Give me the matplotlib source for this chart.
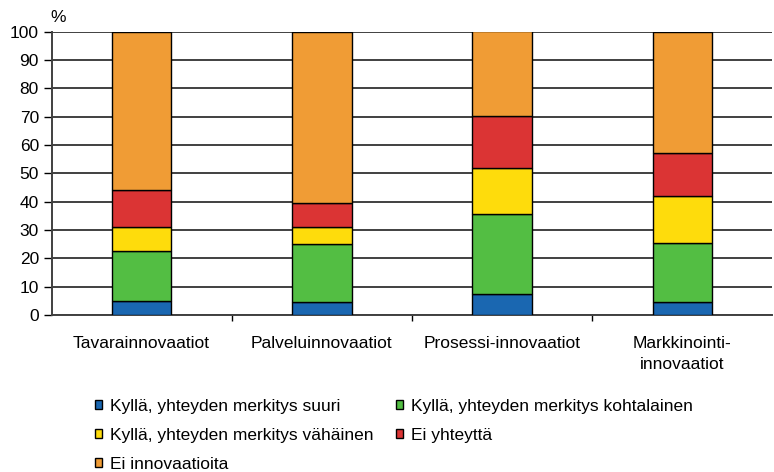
import numpy as np
import matplotlib.pyplot as plt
from matplotlib.patches import Patch

plt.rcParams["font.family"] = ["Liberation Sans", "DejaVu Sans"]

categories = ["Tavarainnovaatiot", "Palveluinnovaatiot", "Prosessi-innovaatiot",
              "Markkinointi-\ninnovaatiot"]
series_names = [
    "Kyllä, yhteyden merkitys suuri",
    "Kyllä, yhteyden merkitys kohtalainen",
    "Kyllä, yhteyden merkitys vähäinen",
    "Ei yhteyttä",
    "Ei innovaatioita",
]
suuri = [5.0, 4.5, 7.3, 4.5]
kohtalainen = [17.5, 20.5, 28.3, 21.0]
vahainen = [8.5, 6.0, 16.4, 16.5]
ei_yhteytta = [13.0, 8.5, 18.1, 15.3]
ei_innovaatioita = [56.0, 60.5, 29.9, 42.7]
colors = ["#1a67b1", "#53be43", "#fedc0c", "#db3434", "#f09c35"]

FS = 12.5


def main():
    fig = plt.figure(figsize=(7.74, 4.72), dpi=100)
    ax = fig.add_axes([51.5 / 774, 1 - 315 / 472, 1 - 51.5 / 774 - 0.002, (315 - 31.5) / 472])

    x = np.arange(len(categories))
    bottom = np.zeros(len(categories))
    handles = []
    for vals, name, c in zip([suuri, kohtalainen, vahainen, ei_yhteytta, ei_innovaatioita],
                             series_names, colors):
        ax.bar(x, vals, 0.33, bottom=bottom, color=c, edgecolor="black", linewidth=1, zorder=3)
        bottom += np.array(vals)
        handles.append(Patch(facecolor=c, edgecolor="black", linewidth=1, label=name))

    ax.set_xlim(-0.5, 3.5)
    ax.set_ylim(0, 100)
    ax.set_yticks(range(0, 101, 10))
    ax.tick_params(axis="y", labelsize=FS, length=6, width=1, direction="out", pad=3)
    ax.yaxis.grid(True, color="#404040", linewidth=1.4, zorder=0)

    ax.set_xticks(np.arange(0.5, 3.5, 1))
    ax.set_xticklabels([])
    ax.tick_params(axis="x", length=4, width=1)
    for xi, lab in zip(x, categories):
        ax.text(xi, -7.5, lab, ha="center", va="top", fontsize=FS, linespacing=1.45)

    for side in ["top", "right"]:
        ax.spines[side].set_visible(False)
    for side in ["left", "bottom"]:
        ax.spines[side].set_color("#404040")
        ax.spines[side].set_linewidth(1.4)

    fig.text(58 / 774, 1 - 18 / 472, "%", fontsize=FS, ha="center", va="center")

    order = [0, 2, 4, 1, 3]
    fig.legend([handles[i] for i in order], [series_names[i] for i in order],
               loc="upper left", bbox_to_anchor=(86 / 774, 1 - 390 / 472), ncol=2,
               frameon=False, fontsize=FS, handlelength=0.42, handleheight=0.42,
               handletextpad=0.45, labelspacing=0.82, columnspacing=1.3, borderpad=0)

    fig.savefig("out.png", dpi=100)


if __name__ == "__main__":
    main()
